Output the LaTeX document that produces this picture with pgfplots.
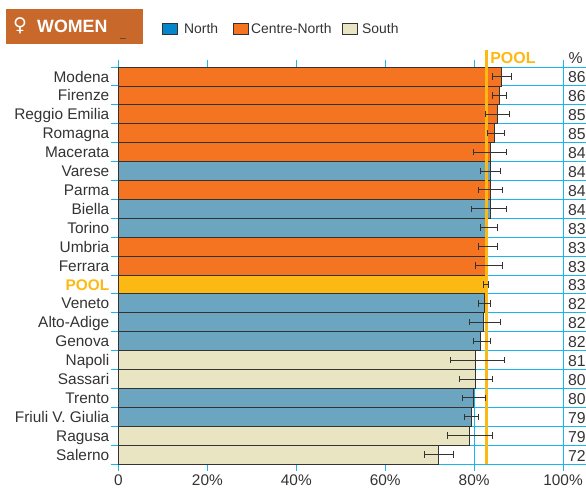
\documentclass[border=0pt]{standalone}
\usepackage{pgfplots}
\usepackage{pgfplotstable}
\usepackage{fontspec}
\setmainfont{Liberation Sans}
\newfontfamily\symfont{DejaVu Sans}
\pgfplotsset{compat=1.18}
\definecolor{cy}{HTML}{19B5EE}
\definecolor{orangebar}{HTML}{F47421}
\definecolor{bluebar}{HTML}{6BA5BF}
\definecolor{creambar}{HTML}{E9E4C1}
\definecolor{gold}{HTML}{FDB913}
\definecolor{head}{HTML}{C8692B}
\definecolor{legblue}{HTML}{0585CC}
\definecolor{txt}{HTML}{333333}
\pgfplotstableread{
y x
0 86.2
1 85.7
2 85.2
3 84.6
4 83.6
6 83.6
9 83.0
10 83.0
}\centrenorth
\pgfplotstableread{
y x
5 83.6
7 83.6
8 83.1
12 82.4
13 82.1
14 81.5
17 79.9
18 79.4
}\north
\pgfplotstableread{
y x
15 80.4
16 80.4
19 78.9
20 72.0
}\south
\pgfplotstableread{
y x
11 82.7
}\pool
\pgfplotstableread{
y x lo hi lab
0 86.2 84.1 88.4 86
1 85.7 84.1 87.3 86
2 85.2 82.5 87.9 85
3 84.6 83.0 86.9 85
4 83.6 79.9 87.3 84
5 83.6 81.5 85.8 84
6 83.6 81.0 86.3 84
7 83.6 79.4 87.3 84
8 83.1 81.5 85.3 83
9 83.0 81.0 85.3 83
10 83.0 80.4 86.3 83
11 82.7 82.1 83.2 83
12 82.4 81.0 83.7 82
13 82.1 78.9 85.8 82
14 81.5 79.9 83.7 82
15 80.4 74.7 86.9 81
16 80.4 76.8 84.1 80
17 79.9 77.3 82.6 80
18 79.4 77.8 81.0 79
19 78.9 74.1 84.1 79
20 72.0 68.9 75.3 72
}\errs
\begin{document}
\begin{tikzpicture}[x=1pt,y=1pt]
\path[use as bounding box] (0,0) rectangle (586,492);
\fill[head] (6,448) rectangle (143,483);
\node[text=white,font=\symfont\fontsize{19}{19}\selectfont,inner sep=0] at (20,466) {♀};
\node[text=white,font=\bfseries\fontsize{17.8}{17.8}\selectfont,anchor=west,inner sep=0] at (37,466) {WOMEN};
\node[text=txt,font=\fontsize{10}{10}\selectfont,anchor=base west,inner sep=0] at (120,454) {\_};
\foreach \xa/\c/\xt/\t in {162/legblue/184/North,233/orangebar/251/Centre-North,342/creambar/362/South}{
  \filldraw[fill=\c,draw=txt,line width=.7pt] (\xa,458) rectangle ++(15,11);
  \node[text=txt,font=\fontsize{13.9}{13.9}\selectfont,anchor=base west,inner sep=0] at (\xt,458) {\t};
}
\begin{axis}[
  at={(118.5pt,28pt)},anchor=south west,
  scale only axis,width=467.5pt,height=397pt,
  xmin=0,xmax=105.17,ymin=-0.5,ymax=20.5,y dir=reverse,
  clip=false,
  axis line style={draw=none},
  tick align=outside,
  xtick={0,20,40,60,80,100},
  xticklabels={0,20\%,40\%,60\%,80\%,100\%},
  xtick pos=both,xticklabel pos=bottom,
  ytick={0,...,20},
  yticklabels={Modena,Firenze,Reggio Emilia,Romagna,Macerata,Varese,Parma,Biella,Torino,Umbria,Ferrara,{\textbf{\textcolor{gold}{POOL}}},Veneto,Alto-Adige,Genova,Napoli,Sassari,Trento,Friuli V. Giulia,Ragusa,Salerno},
  ytick pos=left,
  minor ytick={-0.5,0.5,...,20.5},
  major tick length=7pt,minor tick length=8pt,
  major y tick style={draw=none},
  major x tick style={draw=cy,line width=.9pt},
  minor y tick style={draw=cy,line width=.9pt},
  xmajorgrids,yminorgrids,
  major grid style={draw=cy,line width=.9pt},
  minor grid style={draw=cy,line width=.9pt},
  tick label style={font=\fontsize{15.4}{15.4}\selectfont,text=txt},
  yticklabel style={inner sep=0pt,xshift=-2pt,yshift=-1.6pt,text height=11pt,text depth=3pt},
  xticklabel style={inner sep=0pt,yshift=-4pt},
]
\pgfplotsset{bars/.style={xbar,bar width=18.9pt,draw=txt,line width=.8pt}}
\addplot[bars,fill=orangebar] table[x=x,y=y] {\centrenorth};
\addplot[bars,fill=bluebar] table[x=x,y=y] {\north};
\addplot[bars,fill=creambar] table[x=x,y=y] {\south};
\addplot[bars,fill=gold] table[x=x,y=y] {\pool};
\addplot[gold,line width=2.6pt] coordinates {(82.8,-1.4) (82.8,20.5)};
\addplot[only marks,mark size=0pt,draw=none,
  error bars/.cd,x dir=both,x explicit,
  error bar style={draw=txt,line width=.8pt},
  error mark options={draw=txt,line width=.8pt,rotate=90,mark size=3.2pt}]
  table[x=x,y=y,x error plus expr=\thisrow{hi}-\thisrow{x},x error minus expr=\thisrow{x}-\thisrow{lo}] {\errs};
\addplot[only marks,mark size=0pt,draw=none,
  nodes near coords,point meta=explicit symbolic,
  nodes near coords style={anchor=west,inner sep=0pt,text=txt,font=\fontsize{15.8}{15.8}\selectfont,text height=11pt,text depth=3pt,yshift=-2.5pt}]
  table[x expr=101.1,y=y,meta=lab] {\errs};
\node[anchor=west,inner sep=0,text=gold,font=\bfseries\fontsize{16}{16}\selectfont] at (axis cs:83.6,-0.98) {POOL};
\node[anchor=west,inner sep=0,text=txt,font=\fontsize{15.8}{15.8}\selectfont] at (axis cs:101.2,-0.98) {\%};
\end{axis}
\end{tikzpicture}
\end{document}
